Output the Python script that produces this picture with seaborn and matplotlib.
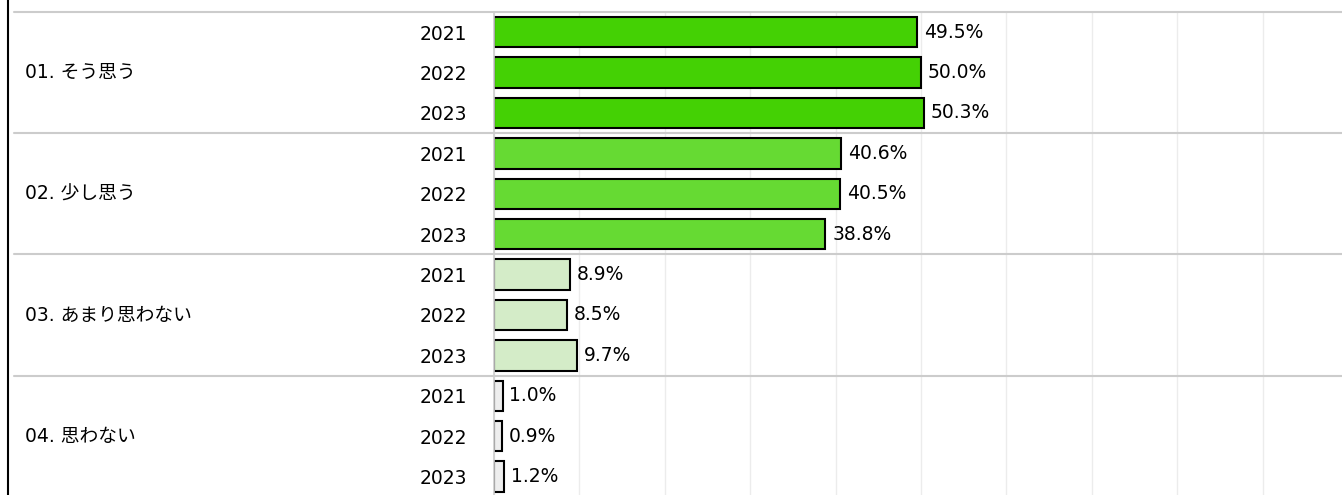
import numpy as np
import pandas as pd
import matplotlib
matplotlib.use("Agg")
import matplotlib.pyplot as plt
import matplotlib.transforms as mtransforms
from matplotlib.lines import Line2D
import seaborn as sns

# ── data ──────────────────────────────────────────────────────────────────────
categories = ["01. そう思う", "02. 少し思う", "03. あまり思わない", "04. 思わない"]
years = ["2021", "2022", "2023"]
values = [
    [49.5, 50.0, 50.3],
    [40.6, 40.5, 38.8],
    [8.9, 8.5, 9.7],
    [1.0, 0.9, 1.2],
]
cat_colors = ["#44d104", "#66da33", "#d4ecc8", "#eeeeee"]

rows = []
for c, vals in zip(categories, values):
    for y, v in zip(years, vals):
        rows.append({"row": f"{c}|{y}", "cat": c, "year": y, "value": v})
df = pd.DataFrame(rows)
palette = {r: cat_colors[categories.index(c)] for r, c in zip(df["row"], df["cat"])}

# ── figure ────────────────────────────────────────────────────────────────────
W, H = 1342, 495
sns.set_theme(style="white")
plt.rcParams["font.family"] = ["DejaVu Sans", "Noto Sans CJK JP"]
plt.rcParams["text.color"] = "black"
plt.rcParams["ytick.color"] = "black"

fig = plt.figure(figsize=(W / 100, H / 100), dpi=100)
ax = fig.add_axes([494 / W, 0, 1 - 494 / W, 1 - 12 / H])

sns.barplot(data=df, x="value", y="row", hue="row", palette=palette,
            legend=False, width=0.75, edgecolor="black", linewidth=1.5,
            saturation=1, orient="h", ax=ax)

px_per_pct = 8.54
ax.set_xlim(0, (W - 494) / px_per_pct)
n = len(df)
ax.set_ylim(-0.5 + 483 / 40.4, -0.5)

ax.set_xticks(np.arange(0, 100, 10))
ax.set_xticklabels([])
ax.grid(axis="x", color="#ececec", lw=1)
ax.set_axisbelow(True)
ax.tick_params(axis="both", length=0)
ax.tick_params(axis="y", pad=19, labelsize=13.5, labelcolor="black")
ax.set_yticks(range(n))
ax.set_yticklabels(df["year"])
ax.set_xlabel("")
ax.set_ylabel("")
for s in ["top", "right", "bottom"]:
    ax.spines[s].set_visible(False)
ax.spines["left"].set_color("#cccccc")
ax.spines["left"].set_linewidth(1.2)

for cont in ax.containers:
    ax.bar_label(cont, fmt="%.1f%%", padding=5, fontsize=13.5, color="black")

# category labels + separators
blend = mtransforms.blended_transform_factory(fig.transFigure, ax.transData)
for i, c in enumerate(categories):
    ax.text(25 / W, i * 3 + 1, c, transform=blend, ha="left", va="center",
            fontsize=13.5, color="black", clip_on=False)
for b in [-0.5, 2.5, 5.5, 8.5]:
    ax.add_line(Line2D([14 / W, 1], [b, b], transform=blend, color="#cccccc",
                       lw=1.5, clip_on=False))

fig.add_artist(Line2D([8 / W, 8 / W], [0, 1], color="black", lw=1.5))

fig.savefig("out.png", dpi=100)
